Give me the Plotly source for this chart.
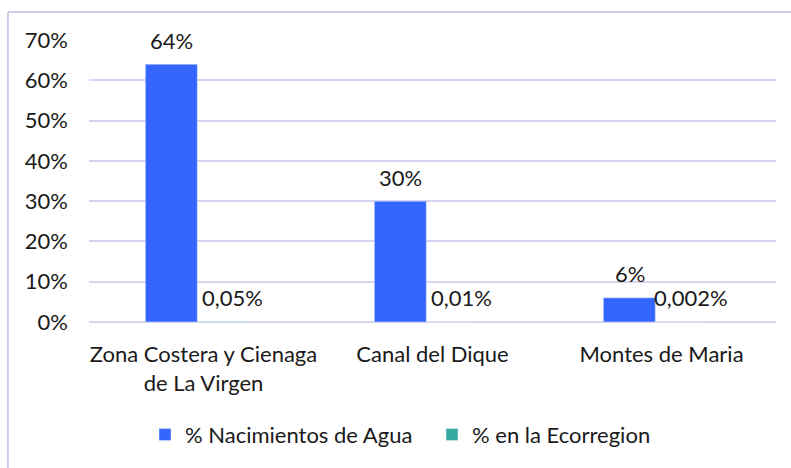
import plotly.graph_objects as go

categories = ["Zona Costera y Cienaga<br>de La Virgen", "Canal del Dique", "Montes de Maria"]
series_names = ["% Nacimientos de Agua", "% en la Ecorregion"]
nacimientos = [0.64, 0.30, 0.06]
ecorregion = [0.0005, 0.0001, 0.00002]
nacimientos_labels = ["64%", "30%", "6%"]
ecorregion_labels = ["0,05%", "0,01%", "0,002%"]
y_ticks = [0, 0.1, 0.2, 0.3, 0.4, 0.5, 0.6, 0.7]
y_tick_labels = ["0%", "10%", "20%", "30%", "40%", "50%", "60%", "70%"]

FONT = "Lato"
FS = 22
TXT = "#1a1a1a"
BLUE = "#3465FE"
TEAL = "#33AA9F"
GRID = "#D6D4F0"

fig = go.Figure()
fig.add_trace(go.Bar(x=categories, y=nacimientos, name=series_names[0],
                     marker_color=BLUE, width=0.227, offset=-0.254))
fig.add_trace(go.Bar(x=categories, y=ecorregion, name=series_names[1],
                     marker_color=TEAL, width=0.227, offset=-0.027))

for c, v, t in zip(categories, nacimientos, nacimientos_labels):
    fig.add_annotation(x=c, y=v, text=t, showarrow=False, xshift=-32, yshift=24,
                       font=dict(family=FONT, size=FS, color=TXT))
for c, v, t in zip(categories, ecorregion, ecorregion_labels):
    fig.add_annotation(x=c, y=v, text=t, showarrow=False, xshift=29, yshift=24,
                       font=dict(family=FONT, size=FS, color=TXT))

# outer chart border (top and left edges visible)
fig.add_shape(type="line", xref="paper", yref="paper", x0=-0.118, x1=1.03, y0=1.0993, y1=1.0993,
              line=dict(color="#CFCBEB", width=2))
fig.add_shape(type="line", xref="paper", yref="paper", x0=-0.118, x1=-0.118, y0=1.0993, y1=-0.55,
              line=dict(color="#CFCBEB", width=2))

fig.update_layout(
    width=791, height=468,
    margin=dict(l=89, r=15, t=40, b=146, autoexpand=False),
    paper_bgcolor="white", plot_bgcolor="white",
    barmode="group",
    font=dict(family=FONT, size=FS, color=TXT),
    showlegend=True,
    legend=dict(orientation="h", x=(145 - 89) / 687, xanchor="left", y=-0.40, yanchor="middle",
                font=dict(family=FONT, size=FS, color=TXT), itemwidth=30,
                entrywidth=242, entrywidthmode="pixels",
                traceorder="normal"),
)
fig.update_xaxes(showgrid=False, showline=False, ticks="", ticklabelstandoff=17, automargin=False)
fig.update_yaxes(range=[0, 0.7], tickvals=y_ticks, ticktext=y_tick_labels,
                 showgrid=True, gridcolor=GRID, gridwidth=1.5,
                 zeroline=True, zerolinecolor=GRID, zerolinewidth=1.5,
                 showline=False, ticks="", ticklabelstandoff=20, automargin=False)

fig.write_html("out.html", config={"displayModeBar": False},
               post_script="document.body.style.margin='0';document.body.style.overflow='hidden';")
